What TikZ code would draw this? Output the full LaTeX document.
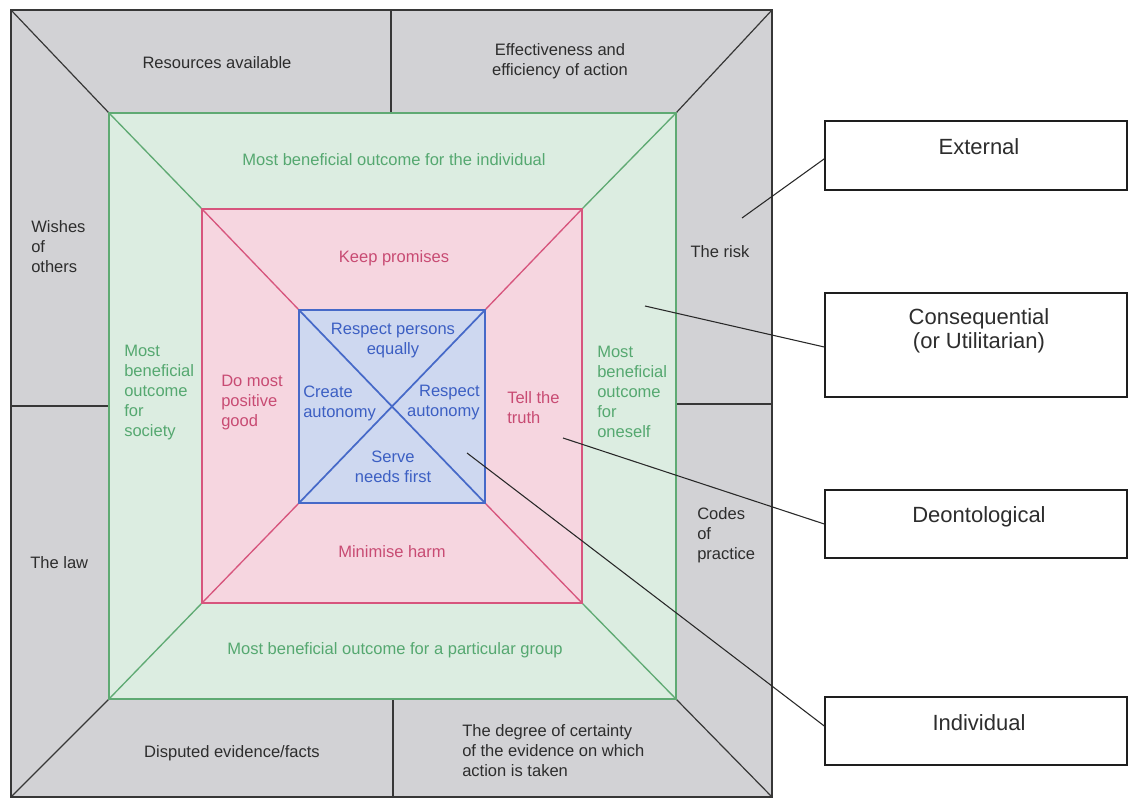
\documentclass[tikz,border=0pt]{standalone}
\usepackage{fontspec}
\setmainfont{Liberation Sans}
\definecolor{graybg}{RGB}{210,210,213}
\definecolor{greenbg}{RGB}{220,237,225}
\definecolor{pinkbg}{RGB}{246,214,224}
\definecolor{bluebg}{RGB}{206,216,240}
\definecolor{grayline}{RGB}{55,55,55}
\definecolor{greenline}{RGB}{95,170,115}
\definecolor{redline}{RGB}{215,85,125}
\definecolor{blueline}{RGB}{70,105,200}
\definecolor{greentext}{RGB}{85,168,112}
\definecolor{redtext}{RGB}{200,75,115}
\definecolor{bluetext}{RGB}{60,95,195}
\definecolor{graytext}{RGB}{45,45,45}
\definecolor{boxline}{RGB}{30,30,30}
\definecolor{connline}{RGB}{40,40,40}
\begin{document}
\begin{tikzpicture}[x=0.75pt,y=-0.75pt,
  txt/.style={font=\fontsize{12.4}{15}\selectfont, inner sep=0pt, align=center},
  gtxt/.style={txt, text=graytext},
  grtxt/.style={txt, text=greentext},
  rtxt/.style={txt, text=redtext},
  btxt/.style={txt, text=bluetext},
  box/.style={draw=boxline, line width=1.1pt, fill=white, minimum width=226.5pt, inner sep=0pt},
  boxtxt/.style={font=\fontsize{16.5}{18}\selectfont, text=graytext, align=center, inner sep=0pt},
  conn/.style={draw=connline, line width=0.8pt},
  grayl/.style={draw=grayline, line width=0.9pt},
  greenl/.style={draw=greenline, line width=1pt},
  redl/.style={draw=redline, line width=1pt},
  bluel/.style={draw=blueline, line width=1.3pt}]
\useasboundingbox (0,0) rectangle (1129,798);
\fill[white] (0,0) rectangle (1129,798);
% corners
\coordinate (O1) at (11,10); \coordinate (O2) at (772,10);
\coordinate (O3) at (772,797); \coordinate (O4) at (11,797);
\coordinate (G1) at (109,113); \coordinate (G2) at (676,113);
\coordinate (G3) at (676,699); \coordinate (G4) at (109,699);
\coordinate (R1) at (202,209); \coordinate (R2) at (582,209);
\coordinate (R3) at (582,603); \coordinate (R4) at (202,603);
\coordinate (B1) at (299,310); \coordinate (B2) at (485,310);
\coordinate (B3) at (485,503); \coordinate (B4) at (299,503);
% fills
\fill[graybg] (O1) rectangle (O3);
\fill[greenbg] (G1) rectangle (G3);
\fill[pinkbg] (R1) rectangle (R3);
\fill[bluebg] (B1) rectangle (B3);
% gray lines
\draw[grayl] (O1) rectangle (O3);
\draw[grayl] (O1) -- (G1) (O2) -- (G2) (O3) -- (G3) (O4) -- (G4);
\draw[grayl] (391,10) -- (391,113) (393,699) -- (393,797)
             (11,406) -- (109,406) (676,404) -- (772,404);
% green
\draw[greenl] (G1) rectangle (G3);
\draw[greenl] (G1) -- (R1) (G2) -- (R2) (G3) -- (R3) (G4) -- (R4);
% red
\draw[redl] (R1) rectangle (R3);
\draw[redl] (R1) -- (B1) (R2) -- (B2) (R3) -- (B3) (R4) -- (B4);
% blue
\draw[bluel] (B1) rectangle (B3);
\draw[bluel] (B1) -- (B3) (B2) -- (B4);
% gray texts
\node[gtxt] (t1) at (217,63) {Resources available};
\node[gtxt] (t2) at (560,61) {Effectiveness and\\efficiency of action};
\node[gtxt, anchor=west, align=left] (t3) at (31,247) {Wishes\\of\\others};
\node[gtxt] (t4) at (720,252) {The risk};
\node[gtxt, anchor=west, align=left] (t5) at (697,535) {Codes\\of\\practice};
\node[gtxt, anchor=west] (t6) at (30,563) {The law};
\node[gtxt] (t7) at (232,753) {Disputed evidence/facts};
\node[gtxt, anchor=west, align=left] (t8) at (462,751) {The degree of certainty\\of the evidence on which\\action is taken};
% green texts
\node[grtxt] (g1) at (394,160) {Most beneficial outcome for the individual};
\node[grtxt, anchor=west, align=left] (g2) at (124,393) {Most\\beneficial\\outcome\\for\\society};
\node[grtxt, anchor=west, align=left] (g3) at (597,392) {Most\\beneficial\\outcome\\for\\oneself};
\node[grtxt] (g4) at (395,650) {Most beneficial outcome for a particular group};
% red texts
\node[rtxt] (r1) at (394,258) {Keep promises};
\node[rtxt, anchor=west, align=left] (r2) at (221,403) {Do most\\positive\\good};
\node[rtxt, anchor=west, align=left] (r3) at (507,408) {Tell the\\truth};
\node[rtxt] (r4) at (392,552) {Minimise harm};
% blue texts
\node[btxt] (b1) at (393,341) {Respect persons\\equally};
\node[btxt, anchor=west, align=left] (b2) at (303,403) {Create\\autonomy};
\node[btxt, anchor=east, align=right] (b3) at (480,403) {Respect\\autonomy};
\node[btxt] (b4) at (393,467) {Serve\\needs first};
% right boxes
\node[box, minimum height=51.75pt] (ext) at (976,155.5) {};
\node[box, minimum height=78pt] (cons) at (976,345) {};
\node[box, minimum height=51pt] (deon) at (976,524) {};
\node[box, minimum height=51pt] (ind) at (976,731) {};
\node[boxtxt] (extT) at (979,147) {External};
\node[boxtxt] (consT) at (979,331) {Consequential\\(or Utilitarian)};
\node[boxtxt] (deonT) at (979,517) {Deontological};
\node[boxtxt] (indT) at (979,723) {Individual};
% connector ends
\coordinate (pExt) at (742,218);
\coordinate (pCons) at (645,306);
\coordinate (pDeon) at (563,438);
\coordinate (pInd) at (467,453);
\draw[conn] (pExt) -- ([yshift=-2.5pt]ext.west);
\draw[conn] (pCons) -- ([yshift=-1.5pt]cons.west);
\draw[conn] (pDeon) -- (deon.west);
\draw[conn] (pInd) -- ([yshift=3.75pt]ind.west);
\end{tikzpicture}
\end{document}
